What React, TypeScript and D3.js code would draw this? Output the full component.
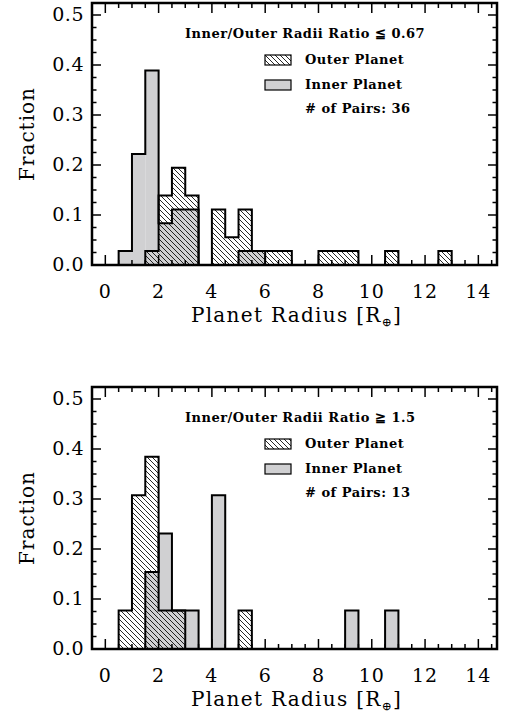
import React from "react";
import * as d3 from "d3";

const binLefts = [0.5, 1.0, 1.5, 2.0, 2.5, 3.0, 3.5, 4.0, 4.5, 5.0, 5.5, 6.0, 6.5, 7.0, 7.5, 8.0, 8.5, 9.0, 9.5, 10.0, 10.5, 11.0, 11.5, 12.0, 12.5];
const binWidth = 0.5;

const topInnerCounts = [1, 8, 14, 3, 4, 4, 0, 0, 0, 1, 1, 0, 0, 0, 0, 0, 0, 0, 0, 0, 0, 0, 0, 0, 0];
const topOuterCounts = [0, 0, 1, 5, 7, 5, 0, 4, 2, 4, 1, 1, 1, 0, 0, 1, 1, 1, 0, 0, 1, 0, 0, 0, 1];
const topPairs = 36;
const topTitle = "Inner/Outer Radii Ratio \u2266 0.67";

const botInnerCounts = [0, 0, 2, 3, 1, 1, 0, 4, 0, 0, 0, 0, 0, 0, 0, 0, 0, 1, 0, 0, 1, 0, 0, 0, 0];
const botOuterCounts = [1, 4, 5, 1, 1, 0, 0, 0, 0, 1, 0, 0, 0, 0, 0, 0, 0, 0, 0, 0, 0, 0, 0, 0, 0];
const botPairs = 13;
const botTitle = "Inner/Outer Radii Ratio \u2267 1.5";

const xTicks = [0, 2, 4, 6, 8, 10, 12, 14];
const yTicks = [0.0, 0.1, 0.2, 0.3, 0.4, 0.5];
const xDomain = [-0.5, 14.7];
const yDomain = [0, 0.524];

const FONT = "'DejaVu Serif', serif";
const GRAY = "#d0d0d2";

const W = 510;
const H = 715;
const plotLeft = 92;
const plotRight = 497;
const plotH = 262;
const panelTops = [3, 387];

function stepPath(x: d3.ScaleLinear<number, number>, y: d3.ScaleLinear<number, number>, counts: number[], n: number) {
  let d = "";
  let i = 0;
  while (i < counts.length) {
    if (counts[i] === 0) { i++; continue; }
    d += `M${x(binLefts[i])},${y(0)}`;
    while (i < counts.length && counts[i] > 0) {
      const v = counts[i] / n;
      d += `L${x(binLefts[i])},${y(v)}L${x(binLefts[i] + binWidth)},${y(v)}`;
      i++;
    }
    d += `L${x(binLefts[i - 1] + binWidth)},${y(0)}`;
  }
  return d;
}

function Panel({ top, inner, outer, n, title, id }: { top: number; inner: number[]; outer: number[]; n: number; title: string; id: string }) {
  const x = d3.scaleLinear().domain(xDomain).range([plotLeft, plotRight]);
  const y = d3.scaleLinear().domain(yDomain).range([top + plotH, top]);
  const xMinor = d3.range(0, 14.75, 0.5);
  const yMinor = d3.range(0, 0.52, 0.025);
  const majX = 10, minX = 5, majY = 9, minY = 4.5;
  const lx = 265;
  const ly = top;
  return (
    <g>
      {inner.map((c, i) => c > 0 ? (
        <rect key={"i" + i} x={x(binLefts[i])} y={y(c / n)} width={x(binLefts[i] + binWidth) - x(binLefts[i])} height={y(0) - y(c / n)} fill={GRAY} />
      ) : null)}
      {outer.map((c, i) => c > 0 ? (
        <rect key={"o" + i} x={x(binLefts[i])} y={y(c / n)} width={x(binLefts[i] + binWidth) - x(binLefts[i])} height={y(0) - y(c / n)} fill={`url(#hatch${id})`} />
      ) : null)}
      <path d={stepPath(x, y, inner, n)} fill="none" stroke="#000" strokeWidth={2} strokeLinejoin="miter" />
      <path d={stepPath(x, y, outer, n)} fill="none" stroke="#000" strokeWidth={2} strokeLinejoin="miter" />
      {xMinor.map((v, i) => {
        const maj = Math.abs(v / 2 - Math.round(v / 2)) < 1e-6;
        const L = maj ? majX : minX;
        return (
          <g key={"xt" + i}>
            <line x1={x(v)} x2={x(v)} y1={y(0)} y2={y(0) - L} stroke="#000" strokeWidth={1.5} />
            <line x1={x(v)} x2={x(v)} y1={top} y2={top + L} stroke="#000" strokeWidth={1.5} />
          </g>
        );
      })}
      {yMinor.map((v, i) => {
        const maj = i % 4 === 0;
        const L = maj ? majY : minY;
        return (
          <g key={"yt" + i}>
            <line x1={plotLeft} x2={plotLeft + L} y1={y(v)} y2={y(v)} stroke="#000" strokeWidth={1.5} />
            <line x1={plotRight} x2={plotRight - L} y1={y(v)} y2={y(v)} stroke="#000" strokeWidth={1.5} />
          </g>
        );
      })}
      <rect x={plotLeft} y={top} width={plotRight - plotLeft} height={plotH} fill="none" stroke="#000" strokeWidth={2.5} />
      {xTicks.map((v) => (
        <text key={"xl" + v} x={x(v)} y={top + plotH + 33} textAnchor="middle" fontFamily={FONT} fontSize={19} letterSpacing={1}>{v}</text>
      ))}
      {yTicks.map((v) => (
        <text key={"yl" + v} x={plotLeft - 8} y={y(v) + 6} textAnchor="end" fontFamily={FONT} fontSize={19} letterSpacing={0.5}>{v.toFixed(1)}</text>
      ))}
      <text x={(plotLeft + plotRight) / 2 + 2} y={top + plotH + 57} textAnchor="middle" fontFamily={FONT} fontSize={20} letterSpacing={1.3}>
        Planet Radius [R<tspan fontSize={12} dy={4}>{"\u2295"}</tspan><tspan dy={-4}>]</tspan>
      </text>
      <text transform={`translate(34,${top + plotH / 2}) rotate(-90)`} textAnchor="middle" fontFamily={FONT} fontSize={20} letterSpacing={1}>Fraction</text>
      <text x={185} y={ly + 35} fontFamily={FONT} fontSize={13} fontWeight="bold" letterSpacing={0.5}>{title}</text>
      <rect x={lx} y={ly + 52} width={26} height={10} fill={`url(#hatch${id})`} stroke="#000" strokeWidth={1.2} />
      <text x={305} y={ly + 61} fontFamily={FONT} fontSize={13} fontWeight="bold" letterSpacing={0.5}>Outer Planet</text>
      <rect x={lx} y={ly + 77} width={26} height={10} fill={GRAY} stroke="#000" strokeWidth={1.2} />
      <text x={305} y={ly + 86} fontFamily={FONT} fontSize={13} fontWeight="bold" letterSpacing={0.5}>Inner Planet</text>
      <text x={305} y={ly + 110} fontFamily={FONT} fontSize={13} fontWeight="bold" letterSpacing={0.5}>{`# of Pairs: ${n}`}</text>
    </g>
  );
}

export default function App() {
  return (
    <svg width={W} height={H} style={{ position: "absolute", left: 0, top: 0, background: "#fff" }}>
      <defs>
        {["a", "b"].map((id) => (
          <pattern key={id} id={`hatch${id}`} patternUnits="userSpaceOnUse" width={5} height={5}>
            <path d="M-1,-1 L6,6 M-1,4 L1,6 M4,-1 L6,1" stroke="#000" strokeWidth={0.85} />
          </pattern>
        ))}
      </defs>
      <rect width={W} height={H} fill="#fff" />
      <Panel top={panelTops[0]} inner={topInnerCounts} outer={topOuterCounts} n={topPairs} title={topTitle} id="a" />
      <Panel top={panelTops[1]} inner={botInnerCounts} outer={botOuterCounts} n={botPairs} title={botTitle} id="b" />
    </svg>
  );
}
